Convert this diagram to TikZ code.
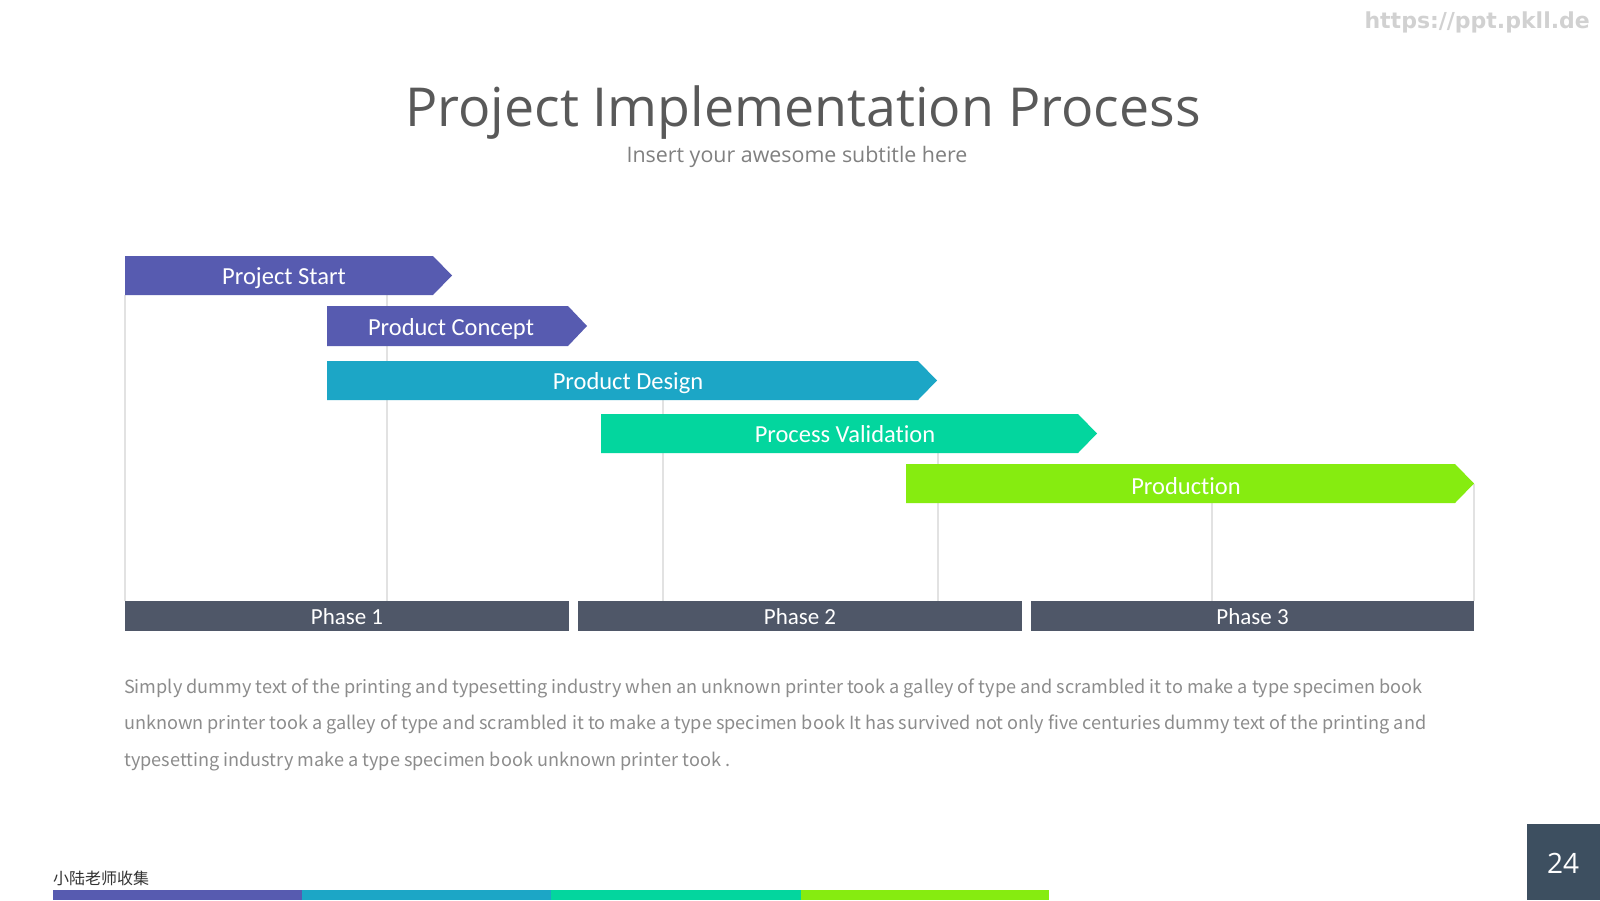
\documentclass[tikz,border=0pt]{standalone}
\usepackage{fontspec}
\setmainfont{Carlito}[Ligatures=NoCommon]
\newfontfamily\titlefont{Open Sans}
\newfontfamily\cjk{Noto Sans CJK SC}
\newfontfamily\urlfont{DejaVu Sans}
\definecolor{cPurple}{HTML}{575BB0}
\definecolor{cBlue}{HTML}{1CA6C6}
\definecolor{cTeal}{HTML}{03D69E}
\definecolor{cLime}{HTML}{86EC10}
\definecolor{cPhase}{HTML}{4F5768}
\definecolor{cGrid}{HTML}{E2E2E2}
\definecolor{cTitle}{HTML}{595959}
\definecolor{cSub}{HTML}{808080}
\definecolor{cBody}{HTML}{8C8C8C}
\definecolor{cPage}{HTML}{3D4F60}
\begin{document}
\begin{tikzpicture}[x=1pt,y=-1pt,
  barlabel/.style={text=white,inner sep=0pt,font=\fontsize{24.5}{28}\selectfont},
  phaselabel/.style={text=white,inner sep=0pt,font=\fontsize{23}{26}\selectfont},
  gridline/.style={draw=cGrid,line width=1.2pt},
  bodyline/.style={anchor=base west,inner sep=0pt,text=cBody,font=\cjk\fontsize{18.1}{22}\selectfont}]
\useasboundingbox (0,0) rectangle (1600,900);
\fill[white] (0,0) rectangle (1600,900);

% grid lines
\draw[gridline] (125,295) -- (125,601);
\draw[gridline] (387,295) -- (387,601);
\draw[gridline] (663,400) -- (663,601);
\draw[gridline] (938,453) -- (938,601);
\draw[gridline] (1212,503) -- (1212,601);
\draw[gridline] (1474,484) -- (1474,601);

% chevron bars
\fill[cPurple] (125,256) -- (433,256) -- (452,275.5) -- (433,295) -- (125,295) -- cycle;
\node[barlabel] (s1) at (284,278.5) {Project Start};
\fill[cPurple] (327,306) -- (568,306) -- (587,326) -- (568,346) -- (327,346) -- cycle;
\node[barlabel] (s2) at (451,329) {Product Concept};
\fill[cBlue] (327,361) -- (918,361) -- (937,380.5) -- (918,400) -- (327,400) -- cycle;
\node[barlabel] (s3) at (628,383) {Product Design};
\fill[cTeal] (601,414) -- (1078,414) -- (1097,433.5) -- (1078,453) -- (601,453) -- cycle;
\node[barlabel] (s4) at (845,434.5) {Process Validation};
\fill[cLime] (906,464) -- (1455,464) -- (1474,483.5) -- (1455,503) -- (906,503) -- cycle;
\node[barlabel] (s5) at (1186,486) {Production};

% phases
\fill[cPhase] (125,601) rectangle (569,631);
\node[phaselabel] (p1) at (347,617) {Phase 1};
\fill[cPhase] (578,601) rectangle (1022,631);
\node[phaselabel] (p2) at (800,617) {Phase 2};
\fill[cPhase] (1031,601) rectangle (1474,631);
\node[phaselabel] (p3) at (1252.5,617) {Phase 3};

% title
\node[text=cTitle,inner sep=0pt,anchor=base,font=\titlefont\fontsize{53.7}{60}\selectfont] (title) at (803,126) {Project Implementation Process};
\node[text=cSub,inner sep=0pt,anchor=base,font=\titlefont\fontsize{21.4}{25}\selectfont] (sub) at (797,162) {Insert your awesome subtitle here};

% body
\node[bodyline] (b1) at (124,693) {Simply dummy text of the printing and typesetting industry when an unknown printer took a galley of type and scrambled it to make a type specimen book};
\node[bodyline] (b2) at (124,729) {unknown printer took a galley of type and scrambled it to make a type specimen book It has survived not only five centuries dummy text of the printing and};
\node[bodyline] (b3) at (124,766) {typesetting industry make a type specimen book unknown printer took .};

% url
\node[text=black!18,inner sep=0pt,anchor=base east,font=\urlfont\bfseries\fontsize{22}{26}\selectfont] (url) at (1590,28) {https://ppt.pkll.de};

% page number
\fill[cPage] (1527,824) rectangle (1600,900);
\node[text=white,inner sep=0pt,font=\titlefont\fontsize{28}{32}\selectfont] (pg) at (1563,863) {24};

% footer
\node[anchor=base west,inner sep=0pt,text=black!80,font=\cjk\fontsize{16}{18}\selectfont] (cn) at (53,884) {小陆老师收集};
\fill[cPurple] (53,890) rectangle (302,900);
\fill[cBlue] (302,890) rectangle (551,900);
\fill[cTeal] (551,890) rectangle (801,900);
\fill[cLime] (801,890) rectangle (1049,900);
\end{tikzpicture}
\end{document}
